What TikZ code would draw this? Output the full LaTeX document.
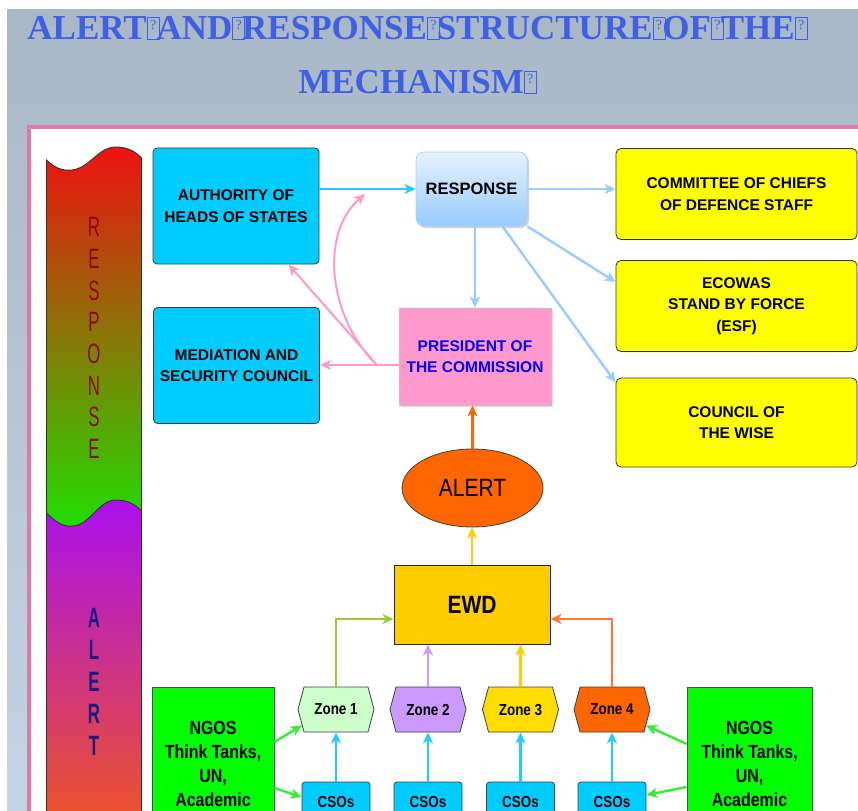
\documentclass[tikz,border=0pt]{standalone}
\usepackage{fontspec}
\setmainfont{Liberation Sans}
\newfontfamily\titlefont{Liberation Serif}
\newfontfamily\narrowfont[FakeStretch=0.84]{Liberation Sans}
\newfontfamily\stripfont[FakeStretch=0.6]{Liberation Sans}
\usetikzlibrary{positioning}
\usetikzlibrary{arrows.meta}
\usetikzlibrary{shapes.geometric,shapes.symbols}
\usetikzlibrary{shadows}

\definecolor{cyanbox}{HTML}{00CCFF}
\definecolor{wingyellow}{HTML}{FFFF00}
\definecolor{prespink}{HTML}{FF99CC}
\definecolor{presblue}{HTML}{0000EE}
\definecolor{alertorange}{HTML}{FF6600}
\definecolor{ewdgold}{HTML}{FFCC00}
\definecolor{zoneone}{HTML}{CCFFCC}
\definecolor{zonetwo}{HTML}{CC99FF}
\definecolor{zonethree}{HTML}{FFDD00}
\definecolor{zonefour}{HTML}{FF6600}
\definecolor{ngogreen}{HTML}{00FF00}
\definecolor{linkcyan}{HTML}{22CCFF}
\definecolor{linksky}{HTML}{99CCFF}
\definecolor{linkpink}{HTML}{FF99CC}
\definecolor{linkgreen}{HTML}{33EE33}
\definecolor{linkolive}{HTML}{99CC33}
\definecolor{linkorange}{HTML}{FF7733}
\definecolor{resptop}{HTML}{E6F1FD}
\definecolor{respbottom}{HTML}{99CCFF}
\definecolor{respedge}{HTML}{A8D0F8}
\definecolor{stripred}{HTML}{EE1111}
\definecolor{stripgreen}{HTML}{22DD00}
\definecolor{strippurple}{HTML}{AA10EE}
\definecolor{striporange}{HTML}{EE5522}
\definecolor{stripmaroon}{HTML}{8B0A0A}
\definecolor{stripnavy}{HTML}{1A1A80}
\definecolor{framepink}{HTML}{E377AA}
\definecolor{bgtop}{HTML}{A9B8C6}
\definecolor{bgbottom}{HTML}{C3D4E4}
\definecolor{titleblue}{HTML}{3F5FE6}

% box standing for a glyph the title font lacks
\newcommand\qbox{{\setlength\fboxsep{0pt}\setlength\fboxrule{0.9pt}%
  \fbox{\vbox to 21pt{\vskip2pt\hbox to 11pt{\hss\fontsize{14}{14}\selectfont\mdseries ?\hss}\vss}}}\kern-3pt}

\tikzset{
        box/.style={align=center,inner sep=0pt,line width=0.8pt,font=\bfseries\fontsize{15.5}{21.5}\selectfont},
        % Council boxes on the left
        node_council/.style={box, rectangle, rounded corners=4pt, draw=black!75, fill=cyanbox, minimum width=166pt, minimum height=116pt},
        % Forces on the right
        node_wing/.style={box, rectangle, rounded corners=5pt, draw=black!80, fill=wingyellow, minimum width=241pt, minimum height=91pt},
        % Response
        node_response/.style={box, rectangle, rounded corners=8pt, draw=respedge, top color=resptop, bottom color=respbottom, drop shadow={shadow xshift=2pt, shadow yshift=-2pt, opacity=0.35}, minimum width=111pt, minimum height=74pt, font=\bfseries\fontsize{16.5}{18}\selectfont},
        % President
        node_president/.style={box, rectangle, draw=prespink!80!black!60, fill=prespink, text=presblue, drop shadow={shadow xshift=1.5pt, shadow yshift=-1.5pt, opacity=0.25}, minimum width=152pt, minimum height=97pt},
        % Alert
        node_alert/.style={box, ellipse, draw=black!75, fill=alertorange, minimum width=141pt, minimum height=78pt, font=\narrowfont\fontsize{25}{25}\selectfont},
        % Early warning directorate
        node_ewd/.style={box, rectangle, draw=black!85, fill=ewdgold, minimum width=156pt, minimum height=79pt, font=\narrowfont\bfseries\fontsize{25}{25}\selectfont},
        % Zones
        node_zone/.style={box, signal, signal to=east and west, signal pointer angle=150, draw=black!75, minimum width=76pt, minimum height=45pt, font=\narrowfont\bfseries\fontsize{16}{18}\selectfont},
        % Civil society
        node_cso/.style={box, rectangle, rounded corners=3pt, draw=black!75, fill=cyanbox, minimum width=68pt, minimum height=42pt, font=\narrowfont\bfseries\fontsize{16}{18}\selectfont},
        % NGOs
        node_ngo/.style={box, rectangle, draw=black!70, fill=ngogreen, minimum height=154pt, font=\narrowfont\bfseries\fontsize{19}{24}\selectfont},
        % Connectors
        link/.style={->, line width=2.4pt},
        link_thin/.style={->, line width=2pt}
}

\begin{document}
\begin{tikzpicture}[
            x=1pt, y=-1pt,
            >={Stealth[length=11pt,width=10pt,inset=3pt]}
        ]
            \useasboundingbox (0,0) rectangle (858,810);
            % backdrop and frame
            \shade[top color=bgtop, bottom color=bgbottom] (7,10) rectangle (858,810);
            \draw[framepink, line width=4pt, fill=white] (28.5,127) rectangle (880,840);

            % title
            \node[align=center, text=titleblue, font=\titlefont\bfseries\fontsize{35}{54}\selectfont] (title) at (416,55)
                {ALERT\qbox AND\qbox RESPONSE\qbox STRUCTURE\qbox OF\qbox THE\qbox\\MECHANISM\qbox};

            % side strip
            \shade[top color=stripred, bottom color=stripgreen]
                (46.5,160) .. controls (55,168) and (62,171) .. (72,170) .. controls (90,168) and (98,147) .. (116,147) .. controls (128,147) and (136,152) .. (141.5,158)
                -- (141.5,511) .. controls (136,505) and (128,500) .. (116,500) .. controls (98,500) and (90,526) .. (72,526) .. controls (62,527) and (55,521) .. (46.5,513) -- cycle;
            \shade[top color=strippurple, bottom color=striporange]
                (46.5,513) .. controls (55,521) and (62,527) .. (72,526) .. controls (90,526) and (98,500) .. (116,500) .. controls (128,500) and (136,505) .. (141.5,511)
                -- (141.5,830) -- (46.5,830) -- cycle;
            \draw[black!80, line width=0.9pt]
                (46.5,830) -- (46.5,160) .. controls (55,168) and (62,171) .. (72,170) .. controls (90,168) and (98,147) .. (116,147) .. controls (128,147) and (136,152) .. (141.5,158) -- (141.5,830);
            \draw[black!80, line width=0.9pt]
                (46.5,513) .. controls (55,521) and (62,527) .. (72,526) .. controls (90,526) and (98,500) .. (116,500) .. controls (128,500) and (136,505) .. (141.5,511);
            \node[align=center, text=stripmaroon, font=\stripfont\fontsize{28}{31.7}\selectfont] (strip_response) at (94,338)
                {R\\E\\S\\P\\O\\N\\S\\E};
            \node[align=center, text=stripnavy, font=\stripfont\bfseries\fontsize{28}{32}\selectfont] (strip_alert) at (94,682)
                {A\\L\\E\\R\\T};

            % response side
            \node[node_council] (auth) at (236,206) {AUTHORITY OF\\HEADS OF STATES};
            \node[node_council] (med) at (236.5,365.5) {MEDIATION AND\\SECURITY COUNCIL};
            \node[node_response] (resp) at (471.5,189) {RESPONSE};
            \node[node_president] (pres) at (475,356.5) {PRESIDENT OF\\THE COMMISSION};
            \node[node_wing] (com) at (736.5,194) {COMMITTEE OF CHIEFS\\OF DEFENCE STAFF};
            \node[node_wing] (eco) at (736.5,306) {ECOWAS\\STAND BY FORCE\\(ESF)};
            \node[node_wing, minimum height=89pt] (wise) at (736.5,422.5) {COUNCIL OF\\THE WISE};

            % alert side
            \node[node_alert] (alert) at (472.5,488) {ALERT};
            \node[node_ewd] (ewd) at (472,604.5) {EWD};
            \node[node_zone, fill=zoneone] (z1) at (336,709.5) {Zone 1};
            \node[node_zone, fill=zonetwo] (z2) at (428,709.5) {Zone 2};
            \node[node_zone, fill=zonethree] (z3) at (520.5,709.5) {Zone 3};
            \node[node_zone, fill=zonefour] (z4) at (612,709.5) {Zone 4};
            \node[node_cso] (c1) at (336,803) {\raisebox{3pt}{CSOs}};
            \node[node_cso] (c2) at (428,803) {\raisebox{3pt}{CSOs}};
            \node[node_cso] (c3) at (520.5,803) {\raisebox{3pt}{CSOs}};
            \node[node_cso] (c4) at (612,803) {\raisebox{3pt}{CSOs}};
            \node[node_ngo, minimum width=122pt] (ngl) at (213,764) {NGOS\\Think Tanks,\\UN,\\Academic};
            \node[node_ngo, minimum width=125pt] (ngr) at (749.5,764) {NGOS\\Think Tanks,\\UN,\\Academic};

            % response links
            \draw[link, linkcyan] (auth.east |- resp.west) -- (resp.west);
            \draw[link, linksky] (resp.east) -- (resp.east -| com.west);
            \draw[link, linksky] (resp.south east) -- ([yshift=24pt]eco.west);
            \draw[link, linksky] ([xshift=31pt]resp.south) -- ([yshift=40pt]wise.west);
            \draw[link, linksky] (resp.south -| pres.north) -- (pres.north);

            % president links
            \coordinate (fork) at (377,365);
            \coordinate (bend_tip) at (365,194);
            \draw[line width=2pt, linkpink] (pres.west |- fork) -- (fork);
            \draw[link_thin, linkpink] (fork) -- (fork -| med.east);
            \draw[link_thin, linkpink] (fork) -- ([xshift=-31pt]auth.south east);
            \draw[link_thin, linkpink] (fork) .. controls (330,320) and (318,235) .. (bend_tip);

            % alert links
            \draw[link, alertorange] (alert.north) -- (alert.north |- pres.south);
            \draw[link, ewdgold] (ewd.north) -- (ewd.north |- alert.south);
            \draw[link, linkolive] (z1.north) |- ([yshift=-14.5pt]ewd.west);
            \draw[link, zonetwo] (z2.north) -- (z2.north |- ewd.south);
            \draw[link, ewdgold] (z3.north) -- (z3.north |- ewd.south);
            \draw[link, linkorange] (z4.north) |- ([yshift=-14.5pt]ewd.east);
            \draw[link, linkcyan] (c1.north) -- (z1.south);
            \draw[link, linkcyan] (c2.north) -- (z2.south);
            \draw[link, linkcyan] (c3.north) -- (z3.south);
            \draw[link, linkcyan] (c4.north) -- (z4.south);
            \draw[link, linkgreen] ([yshift=22pt]ngl.east) -- (z1.205);
            \draw[link, linkgreen] ([yshift=-24pt]ngl.east) -- ([yshift=6pt]c1.west);
            \draw[link, linkgreen] ([yshift=20pt]ngr.west) -- (z4.-25);
            \draw[link, linkgreen] ([yshift=-23pt]ngr.west) -- ([yshift=8pt]c4.east);
        \end{tikzpicture}
\end{document}
